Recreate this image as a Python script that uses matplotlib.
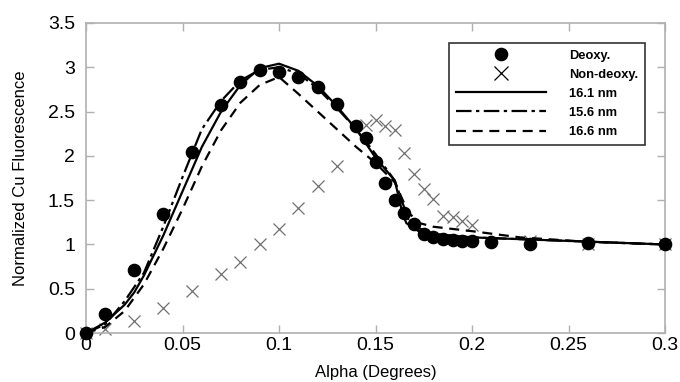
import matplotlib
matplotlib.use("Agg")
import matplotlib.pyplot as plt
from matplotlib.ticker import FuncFormatter

plt.rcParams['font.family'] = ['Liberation Sans', 'DejaVu Sans']

# measured points
deoxy_x = [0, 0.01, 0.025, 0.04, 0.055, 0.07, 0.08, 0.09, 0.1, 0.11, 0.12, 0.13,
           0.14, 0.145, 0.15, 0.155, 0.16, 0.165, 0.17, 0.175, 0.18, 0.185, 0.19,
           0.195, 0.2, 0.21, 0.23, 0.26, 0.3]
deoxy_y = [0, 0.22, 0.71, 1.34, 2.04, 2.57, 2.83, 2.97, 2.95, 2.89, 2.78, 2.59,
           2.34, 2.2, 1.93, 1.69, 1.5, 1.35, 1.23, 1.12, 1.08, 1.06, 1.05,
           1.04, 1.04, 1.03, 1.0, 1.02, 1.0]

nondeoxy_x = [0, 0.01, 0.025, 0.04, 0.055, 0.07, 0.08, 0.09, 0.1, 0.11, 0.12, 0.13,
              0.145, 0.15, 0.155, 0.16, 0.165, 0.17, 0.175, 0.18, 0.185, 0.19,
              0.195, 0.2, 0.23, 0.26, 0.3]
nondeoxy_y = [0, 0.05, 0.14, 0.28, 0.47, 0.67, 0.80, 1.0, 1.17, 1.41, 1.66, 1.89,
              2.35, 2.40, 2.34, 2.29, 2.03, 1.80, 1.63, 1.51, 1.32, 1.31,
              1.26, 1.22, 1.04, 1.0, 1.0]

# fits
fit161_x = [0, 0.005, 0.01, 0.02, 0.025, 0.03, 0.04, 0.05, 0.06, 0.07, 0.08, 0.09,
            0.1, 0.11, 0.12, 0.13, 0.14, 0.15, 0.16, 0.164, 0.166, 0.173, 0.18,
            0.2, 0.25, 0.3]
fit161_y = [0, 0.06, 0.12, 0.32, 0.46, 0.65, 1.1, 1.6, 2.1, 2.5, 2.8, 2.99,
            3.04, 2.96, 2.79, 2.56, 2.3, 1.98, 1.72, 1.35, 1.24, 1.14, 1.11,
            1.08, 1.04, 1.0]

fit156_x = [0, 0.01, 0.02, 0.03, 0.04, 0.05, 0.06, 0.07, 0.08, 0.09, 0.1, 0.11,
            0.12, 0.13, 0.14, 0.15, 0.16, 0.168, 0.18, 0.2, 0.25, 0.3]
fit156_y = [0, 0.1, 0.36, 0.68, 1.2, 1.76, 2.3, 2.62, 2.85, 2.97, 3.0, 2.93,
            2.76, 2.54, 2.3, 2.02, 1.72, 1.22, 1.12, 1.08, 1.04, 1.0]

fit166_x = [0, 0.01, 0.02, 0.03, 0.04, 0.05, 0.06, 0.07, 0.08, 0.09, 0.1, 0.11,
            0.12, 0.13, 0.14, 0.15, 0.16, 0.167, 0.173, 0.18, 0.2, 0.225, 0.26, 0.3]
fit166_y = [0, 0.07, 0.25, 0.55, 0.95, 1.4, 1.88, 2.29, 2.6, 2.8, 2.89, 2.7,
            2.5, 2.3, 2.1, 1.92, 1.7, 1.36, 1.24, 1.2, 1.15, 1.08, 1.03, 1.0]

fig = plt.figure(figsize=(6.8, 3.82), dpi=100)
ax = fig.add_axes([0.1265, 0.128, 0.8515, 0.812])

ax.plot(deoxy_x, deoxy_y, 'o', color='black', ms=8.8, clip_on=False, label='Deoxy.', zorder=3)
ax.plot(nondeoxy_x, nondeoxy_y, 'x', color='#707070', ms=8, mew=0.9, clip_on=False,
        label='Non-deoxy.', zorder=2)
ax.plot(fit161_x, fit161_y, '-', color='black', lw=1.6, label='16.1 nm', zorder=4)
ax.plot(fit156_x, fit156_y, color='black', lw=1.6, linestyle=(0, (7, 2, 1.5, 2)),
        label='15.6 nm', zorder=4)
ax.plot(fit166_x, fit166_y, color='black', lw=1.6, linestyle=(0, (4.5, 3)),
        label='16.6 nm', zorder=4)

ax.set_xlim(0, 0.3)
ax.set_ylim(0, 3.5)
ax.set_xticks([0, 0.05, 0.1, 0.15, 0.2, 0.25, 0.3])
ax.set_yticks([0, 0.5, 1, 1.5, 2, 2.5, 3, 3.5])
ax.xaxis.set_major_formatter(FuncFormatter(lambda v, p: f"{v:g}"))
ax.yaxis.set_major_formatter(FuncFormatter(lambda v, p: f"{v:g}"))

for s in ax.spines.values():
    s.set_color('#b0b0b0')
    s.set_linewidth(1.2)
ax.tick_params(direction='in', length=6, width=1, color='#b0b0b0',
               top=True, right=True)
ax.tick_params(axis='x', labelsize=14, pad=3)
ax.tick_params(axis='y', labelsize=14, pad=8)

ax.set_xlabel('Alpha (Degrees)', fontsize=12, labelpad=8)
ax.set_ylabel('Normalized Cu Fluorescence', fontsize=12, labelpad=14)

leg = ax.legend(loc='upper left', bbox_to_anchor=(0.627, 0.935),
                prop={'weight': 'bold', 'size': 9.3}, frameon=True, fancybox=False,
                edgecolor='black', handlelength=7.0, handletextpad=1.8,
                labelspacing=0.55, borderpad=0.5, borderaxespad=0)
leg.get_frame().set_linewidth(1.2)
leg.legend_handles[1].set_color('black')
leg.legend_handles[1].set_markersize(10)

fig.savefig('out.png', dpi=100)
